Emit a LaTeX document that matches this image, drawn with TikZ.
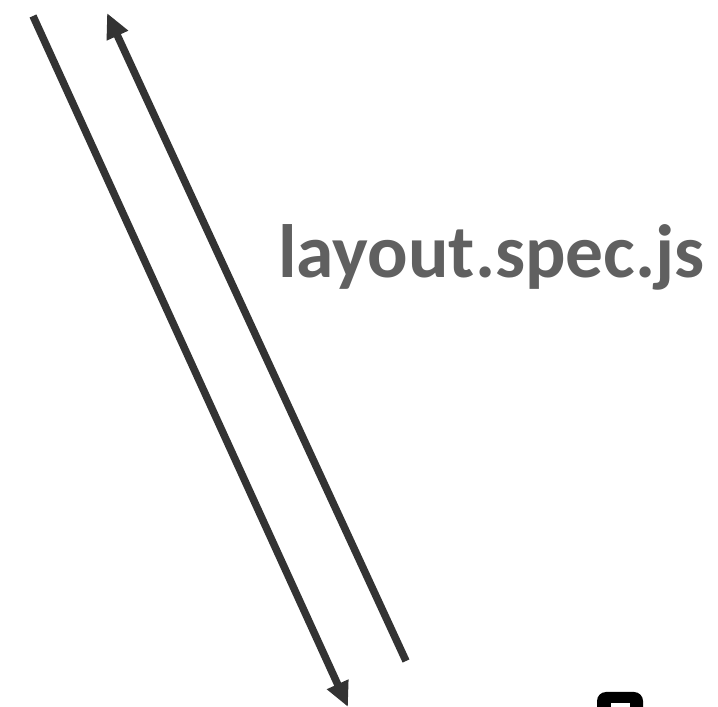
\documentclass[tikz,border=0pt]{standalone}
\usepackage{fontspec}
\setmainfont{Carlito}
\usetikzlibrary{arrows.meta}
\definecolor{linegray}{HTML}{333333}
\definecolor{textgray}{HTML}{606060}
\tikzset{
  flow/.style={line width=7.5pt, draw=linegray, -{Triangle[length=25pt,width=22pt]}},
  label/.style={font=\bfseries\fontsize{75.5}{84}\selectfont, text=textgray, inner sep=0pt, anchor=base west},
}
\begin{document}
\begin{tikzpicture}[x=1pt,y=1pt]
\useasboundingbox (0,0) rectangle (718,707);
\clip (0,0) rectangle (718,707);
\coordinate (a1) at (33,691);
\coordinate (a2) at (348,0);
\coordinate (b1) at (406,46);
\coordinate (b2) at (107,694);
\draw[flow] (a1) -- (a2);
\draw[flow] (b1) -- (b2);
\node[label] (lbl) at (278,429) {layout.spec.js};
\fill[black, rounded corners=9pt] (597,-15) rectangle (643,15);
\fill[white] (611,-10) rectangle (630,4);
\end{tikzpicture}
\end{document}
